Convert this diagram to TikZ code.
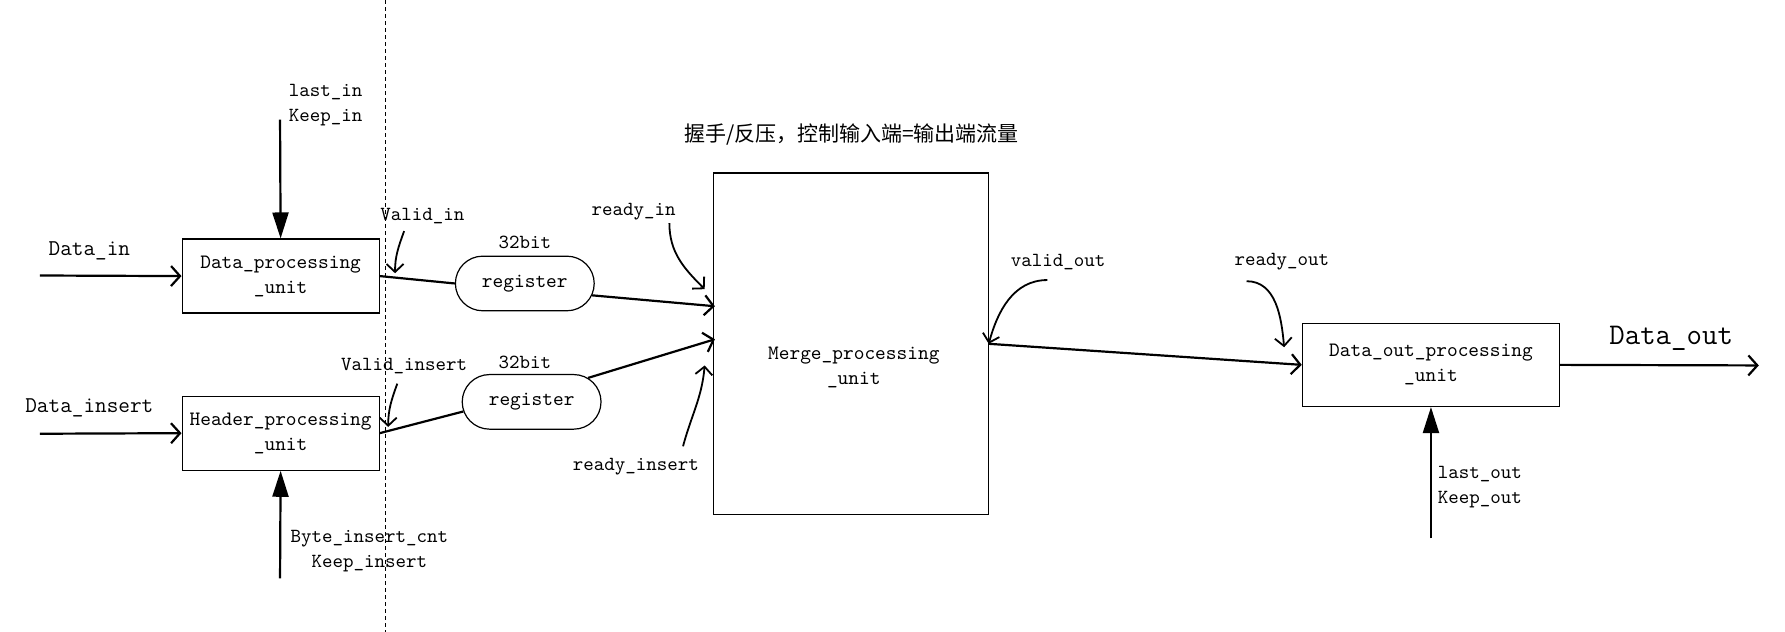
\documentclass[tikz,border=0pt]{standalone}
\usepackage{fontspec}
\usepackage{tikz}
\usetikzlibrary{arrows.meta, shapes.misc}
\newfontfamily\cjk{Noto Sans CJK SC}
\newcommand{\tx}[1]{\ttfamily\fontsize{#1}{12.5}\selectfont}
\tikzstyle{unit}=[rectangle, draw, line width=.6pt, align=center, inner sep=0pt, font=\tx{10.2}]
\tikzstyle{reg}=[rounded rectangle, draw, line width=.6pt, minimum width=69.4pt, minimum height=27.3pt, inner sep=0pt, font=\tx{10.2}]
\tikzstyle{sig}=[align=center, inner sep=0pt, yshift=-1.1pt, font=\tx{10}]
\tikzstyle{bus}=[line width=1.1pt, -{Straight Barb[length=4.5pt, width=10pt]}]
\tikzstyle{wire}=[line width=1.1pt]
\tikzstyle{hand}=[line width=.9pt, -{Straight Barb[length=4pt, width=8.5pt]}]
\tikzstyle{ctrl}=[line width=1.1pt, -{Triangle[length=13pt, width=8pt]}]

\begin{document}
\begin{tikzpicture}[x=0.5692pt, y=0.5692pt]
  \useasboundingbox (0,0) rectangle (1568,-555);
  \draw[line width=.5pt, dash pattern=on 2pt off 1.5pt] (339,0) -- (339,-555);
  % blocks
  \node[unit, minimum width=98.5pt, minimum height=37pt] (dpu) at (246.5,-242.5) {Data\_processing\\\_unit};
  \node[unit, minimum width=98.5pt, minimum height=37pt] (hpu) at (246.5,-380.5) {Header\_processing\\\_unit};
  \node[unit, minimum width=137.2pt, minimum height=170.8pt] (merge) at (747.5,-302) {};
  \node[sig, font=\tx{10.2}] (mergetext) at (750,-321) {Merge\_processing\\\_unit};
  \node[unit, minimum width=128.6pt, minimum height=41.6pt] (dout) at (1257,-320.5) {Data\_out\_processing\\\_unit};
  \node[reg] (reg1) at (461,-249) {register};
  \node[reg] (reg2) at (467,-353) {register};
  % texts
  \node[sig, font=\tx{11.3}] (datain) at (78.5,-218) {Data\_in};
  \node[sig, font=\tx{11.3}] (datainsert) at (78.5,-356) {Data\_insert};
  \node[sig, font=\tx{15}] (dataout) at (1468,-295) {Data\_out};
  \node[sig] (lastin) at (286,-90) {last\_in\\Keep\_in};
  \node[sig] (byteins) at (324.5,-482) {Byte\_insert\_cnt\\Keep\_insert};
  \node[sig] (lastout) at (1300,-426) {last\_out\\Keep\_out};
  \node[sig] (validin) at (371,-188) {Valid\_in};
  \node[sig] (validins) at (355,-320) {Valid\_insert};
  \node[sig] (bit1) at (461,-211) {32bit};
  \node[sig] (bit2) at (461,-316) {32bit};
  \node[sig] (readyin) at (556.5,-184) {ready\_in};
  \node[sig] (readyins) at (558.5,-408) {ready\_insert};
  \node[sig] (validout) at (929.5,-228) {valid\_out};
  \node[sig] (readyout) at (1126,-228) {ready\_out};
  \node[inner sep=0pt, font=\cjk\fontsize{10.5}{12}\selectfont] (title) at (748,-118) {握手/反压，控制输入端=输出端流量};
  % free ends
  \coordinate (din) at (35,-242);
  \coordinate (dins) at (35,-381);
  \coordinate (dend) at (1545,-321);
  \coordinate (lin) at (246,-105);
  \coordinate (bin) at (246,-508);
  \coordinate (lout) at (1257,-473);
  \coordinate (m1) at (628,-269);
  \coordinate (m2) at (628,-298);
  \coordinate (vin-a) at (355,-203); \coordinate (vin-b) at (347,-240);
  \coordinate (vins-a) at (349,-337); \coordinate (vins-b) at (341,-375);
  \coordinate (rin-a) at (588,-196); \coordinate (rin-b) at (619,-254);
  \coordinate (rins-a) at (600,-392); \coordinate (rins-b) at (619,-321);
  \coordinate (rout-a) at (1095,-247); \coordinate (rout-b) at (1128,-305);
  \coordinate (vout-a) at (920,-246);
  % data path
  \draw[bus] (din) -- (dpu.west);
  \draw[bus] (dins) -- (hpu.west);
  \draw[wire] (dpu.east) -- (reg1.west);
  \draw[wire] (hpu.east) -- (reg2.188);
  \draw[bus] (reg1.-10) -- (m1);
  \draw[bus] (reg2.23) -- (m2);
  \draw[bus] (merge.east) -- (dout.west);
  \draw[bus] (dout.east) -- (dend);
  \draw[ctrl] (lin) -- (dpu.north);
  \draw[ctrl] (bin) -- (hpu.south);
  \draw[ctrl] (lout) -- (dout.south);
  % handshake
  \draw[hand] (vin-a) to[out=250, in=90] (vin-b);
  \draw[hand] (vins-a) to[out=250, in=90] (vins-b);
  \draw[hand] (rin-a) to[out=270, in=135] (rin-b);
  \draw[hand] (rins-a) to[out=75, in=265] (rins-b);
  \draw[hand] (vout-a) to[out=180, in=75] (merge.east);
  \draw[hand] (rout-a) to[out=0, in=95] (rout-b);
\end{tikzpicture}
\end{document}
